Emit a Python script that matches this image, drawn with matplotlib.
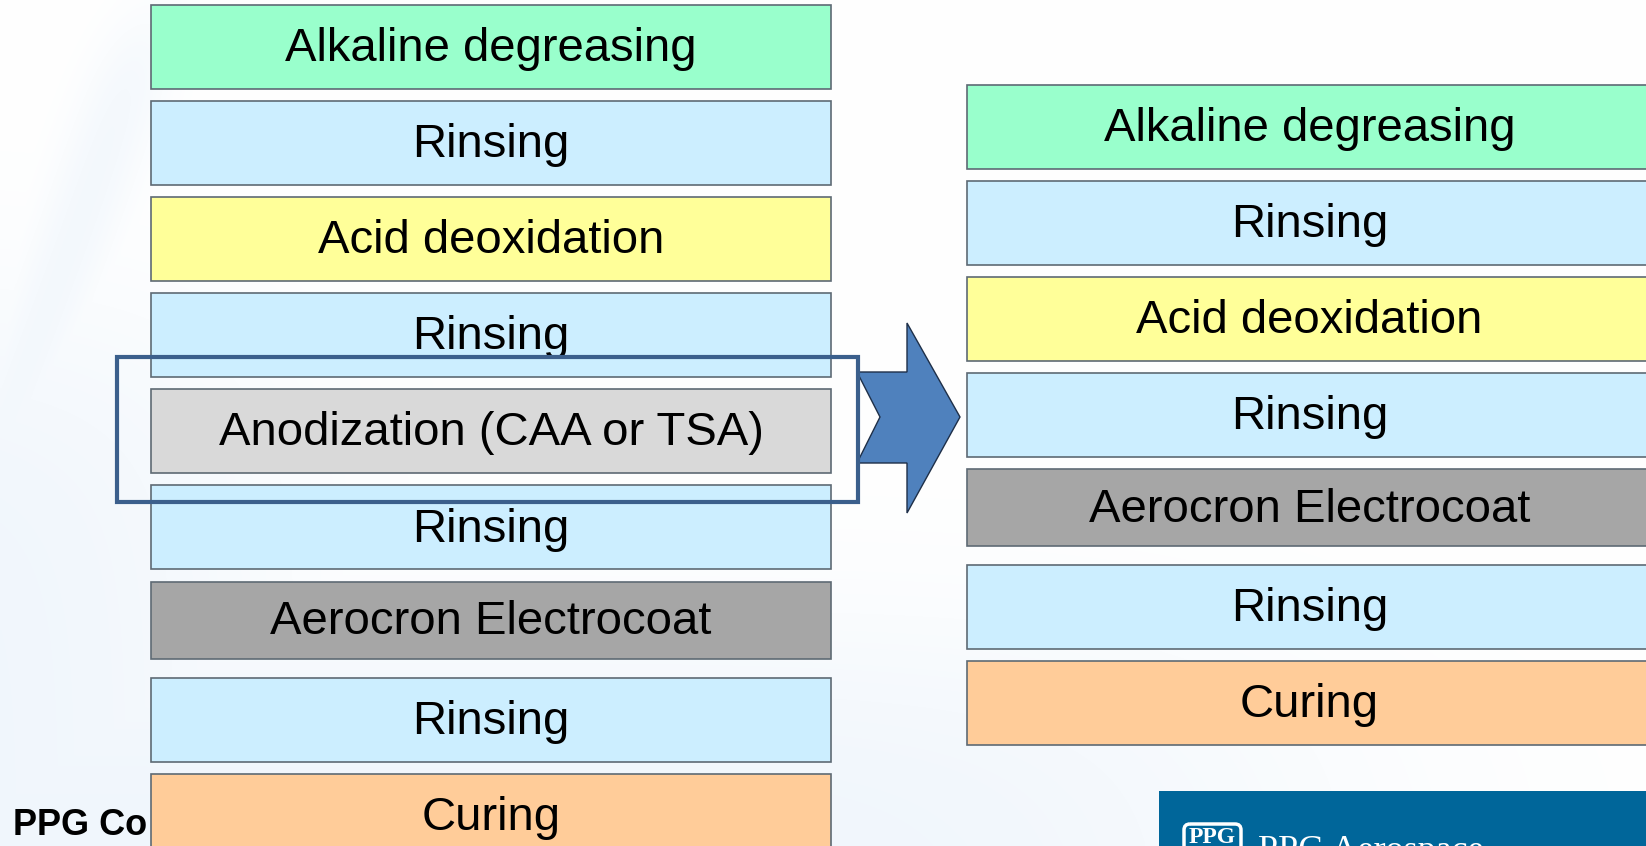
import numpy as np
import matplotlib.pyplot as plt
from matplotlib.patches import Rectangle, Polygon, FancyBboxPatch

# process steps, old line (left) and new line (right)
left_steps = ['Alkaline degreasing', 'Rinsing', 'Acid deoxidation', 'Rinsing',
              'Anodization (CAA or TSA)', 'Rinsing', 'Aerocron Electrocoat',
              'Rinsing', 'Curing']
right_steps = ['Alkaline degreasing', 'Rinsing', 'Acid deoxidation', 'Rinsing',
               'Aerocron Electrocoat', 'Rinsing', 'Curing']

step_colors = {
    'Alkaline degreasing': '#99ffcc',
    'Rinsing': '#cceeff',
    'Acid deoxidation': '#ffff99',
    'Anodization (CAA or TSA)': '#d9d9d9',
    'Aerocron Electrocoat': '#a6a6a6',
    'Curing': '#ffcc99',
}

W, H = 1646, 846
fig = plt.figure(figsize=(W / 100, H / 100), dpi=100)
ax = fig.add_axes([0, 0, 1, 1])
ax.set_xlim(0, W)
ax.set_ylim(H, 0)
ax.axis('off')


def sig(v):
    return 1 / (1 + np.exp(-v))


# faint blue swoosh in the background
yy, xx = np.mgrid[0:H:3, 0:W:3].astype(float)
xc = 150 - 150 * (yy / 430) ** 1.1
stripe = 0.45 * np.exp(-((xx - xc) / 45) ** 2) * sig((yy - 30) / 30)
left = 0.6 * sig((yy - 330) / 70) * sig(-(xx - 230) / 90)
bottom = 0.6 * sig((yy - 650) / 60) * sig(-(xx - 1250) / 140)
w = np.clip(np.maximum(np.maximum(stripe, left), bottom), 0, 1)
c = np.array([0.90, 0.94, 0.98])
bg = 1 - w[..., None] * (1 - c)
ax.imshow(bg, extent=(0, W, H, 0), aspect='auto', zorder=0, interpolation='bilinear')

edge = '#5e6a74'
font = 'Liberation Sans'

# footer text (rest hidden behind the last box)
ax.text(13, 835, 'PPG Co', fontsize=26, fontweight='bold', family=font,
        color='black', va='baseline', ha='left', zorder=1)


def column(steps, x0, x1, top, pitch):
    y = top
    for s in steps:
        h = 77 if s == 'Aerocron Electrocoat' else 84
        ax.add_patch(Rectangle((x0, y), x1 - x0, h, facecolor=step_colors[s],
                               edgecolor=edge, lw=1.2, zorder=2))
        ax.text((x0 + x1) / 2, y + h / 2 + 14, s, fontsize=34, family=font,
                ha='center', va='baseline', zorder=3)
        y += pitch


column(left_steps, 151, 831, 5, 96.1)
column(right_steps, 967, 1652, 85, 96)

# arrow from old to new line
arrow = Polygon([(857, 372), (907, 372), (907, 323), (960, 417), (907, 513),
                 (907, 463), (857, 463), (880, 417)], closed=True,
                facecolor='#4f81bd', edgecolor='#1e2f48', lw=1.0, zorder=3)
ax.add_patch(arrow)

# highlight around the anodization step
ax.add_patch(Rectangle((117, 357), 741, 145, fill=False, edgecolor='#3b5f8c',
                       lw=3.0, zorder=4))

# logo bar
ax.add_patch(Rectangle((1159, 791), W - 1159, H - 791, facecolor='#00669a',
                       edgecolor='none', zorder=2))
ax.add_patch(FancyBboxPatch((1184, 824), 57, 40, boxstyle='round,pad=0,rounding_size=6',
                            facecolor='none', edgecolor='white', lw=2.5, zorder=3))
ax.text(1212, 827, 'PPG', fontsize=17, fontweight='bold', family='Liberation Serif',
        color='white', va='top', ha='center', zorder=3)
ax.text(1258, 860, 'PPG Aerospace', fontsize=26, family='Liberation Serif',
        color='white', va='baseline', ha='left', zorder=3)

fig.savefig('out.png', dpi=100)
